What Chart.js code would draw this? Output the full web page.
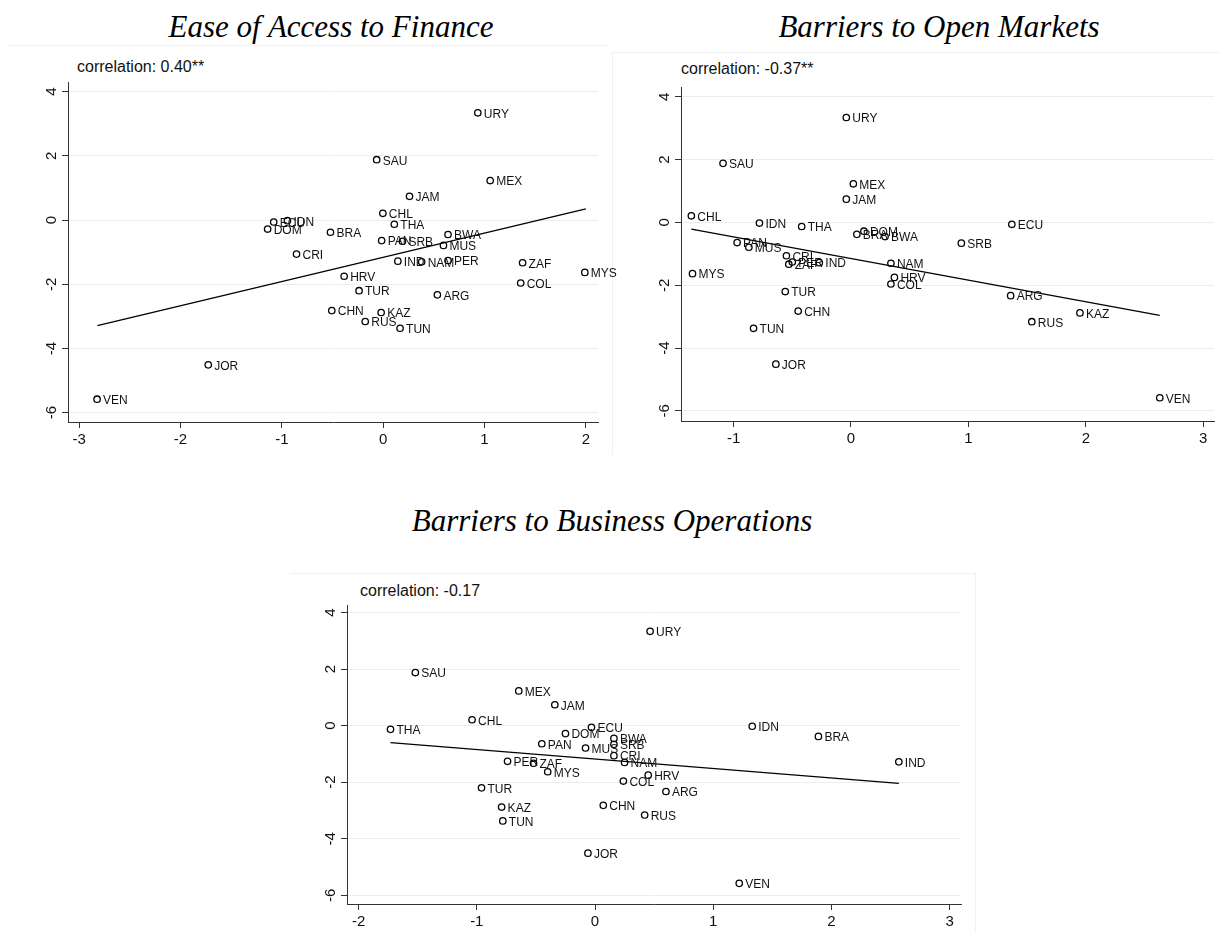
<!DOCTYPE html>
<html><head><meta charset="utf-8">
<script src="https://cdn.jsdelivr.net/npm/chart.js@4.4.0/dist/chart.umd.min.js"></script>
<style>
body{margin:0;background:#fff;width:1223px;height:935px;position:relative;overflow:hidden;font-family:"Liberation Sans",Arial,sans-serif}
.t{position:absolute;font-family:"Liberation Serif","Times New Roman",serif;font-style:italic;font-size:31px;line-height:31px;white-space:nowrap;transform:translateX(-50%);color:#000}
.c{position:absolute;font-size:16px;line-height:16px;color:#111;white-space:nowrap}
canvas{position:absolute}
.f{position:absolute;background:#edf2f3}
</style></head><body>
<div class="f" style="left:8px;top:45px;width:601px;height:1px"></div>
<div class="f" style="left:612px;top:52px;width:608px;height:1px"></div>
<div class="f" style="left:612px;top:52px;width:1px;height:403px"></div>
<div class="f" style="left:290px;top:573px;width:685px;height:1px"></div>
<div class="f" style="left:975px;top:573px;width:1px;height:360px"></div>

<div class="t" style="left:331px;top:11px">Ease of Access to Finance</div>
<div class="t" style="left:939px;top:11px">Barriers to Open Markets</div>
<div class="t" style="left:612px;top:505px">Barriers to Business Operations</div>
<div class="c" style="left:77px;top:59px">correlation: 0.40**</div>
<div class="c" style="left:681px;top:61px">correlation: -0.37**</div>
<div class="c" style="left:360px;top:583px">correlation: -0.17</div>

<canvas id="p1"></canvas>
<canvas id="p2"></canvas>
<canvas id="p3"></canvas>
<script>
// ---- data ----
const countries = ['URY','SAU','MEX','JAM','CHL','THA','ECU','IDN','DOM','BRA','BWA','PAN','SRB','MUS','CRI','IND','NAM','PER','ZAF','MYS','HRV','COL','TUR','ARG','CHN','KAZ','RUS','TUN','JOR','VEN'];
const growth = [3.34,1.88,1.23,0.74,0.21,-0.13,-0.06,-0.02,-0.28,-0.38,-0.45,-0.64,-0.66,-0.79,-1.06,-1.28,-1.30,-1.26,-1.33,-1.63,-1.75,-1.96,-2.20,-2.33,-2.82,-2.88,-3.16,-3.37,-4.51,-5.58];
const financeX = [0.934,-0.064,1.056,0.26,-0.003,0.11,-1.08,-0.945,-1.14,-0.52,0.64,-0.015,0.19,0.595,-0.855,0.145,0.38,0.64,1.376,1.99,-0.385,1.357,-0.238,0.535,-0.507,-0.02,-0.177,0.167,-1.726,-2.823];
const openX = [-0.04,-1.09,0.02,-0.04,-1.36,-0.42,1.37,-0.78,0.11,0.05,0.29,-0.97,0.94,-0.87,-0.55,-0.27,0.34,-0.50,-0.53,-1.35,0.37,0.34,-0.56,1.36,-0.45,1.95,1.54,-0.83,-0.64,2.63];
const businessX = [0.466,-1.52,-0.645,-0.34,-1.04,-1.73,-0.03,1.33,-0.25,1.89,0.16,-0.45,0.16,-0.08,0.16,2.57,0.25,-0.74,-0.52,-0.40,0.45,0.24,-0.96,0.60,0.07,-0.79,0.42,-0.78,-0.06,1.22];
const financeFitX = [-2.82,2.0],  financeFitY = [-3.29,0.35];
const openFitX = [-1.36,2.63],    openFitY = [-0.21,-2.96];
const businessFitX = [-1.73,2.57], businessFitY = [-0.60,-2.04];
const yTicks = [-6,-4,-2,0,2,4];
const financeTicks = [-3,-2,-1,0,1,2];
const openTicks = [-1,0,1,2,3];
const businessTicks = [-2,-1,0,1,2,3];

const FONT = '"Liberation Sans", Arial, sans-serif';
const fmt = v => String(v);

const labelPlugin = {
  id:'labels',
  afterDatasetsDraw(chart){
    const ctx = chart.ctx;
    const meta = chart.getDatasetMeta(0);
    ctx.save();
    ctx.font = '12px ' + FONT;
    ctx.fillStyle = '#111';
    ctx.textAlign = 'left';
    ctx.textBaseline = 'middle';
    meta.data.forEach((pt,i)=>{ ctx.fillText(countries[i], pt.x + 6, pt.y + 1.5); });
    ctx.restore();
  },
  afterDraw(chart){
    const ctx = chart.ctx, ys = chart.scales.y;
    ctx.save();
    ctx.font = '15px ' + FONT;
    ctx.fillStyle = '#111';
    ctx.textAlign = 'center';
    ctx.textBaseline = 'middle';
    ys.ticks.forEach(t=>{
      const py = ys.getPixelForValue(t.value);
      ctx.save();
      ctx.translate(chart.chartArea.left - 16, py);
      ctx.rotate(-Math.PI/2);
      ctx.fillText(fmt(t.value), 0, 0);
      ctx.restore();
    });
    ctx.restore();
  }
};

function panel(id, g, xs, fitX, fitY, xTicks){
  const cv = document.getElementById(id);
  const yW = 50, pT = 10, pR = 25, xH = 35;
  const left = g.L - yW, top = g.T - pT;
  const w = g.R - left + pR, h = g.B - top + xH;
  cv.width = w; cv.height = h;
  cv.style.left = left + 'px'; cv.style.top = top + 'px';
  cv.style.width = w + 'px'; cv.style.height = h + 'px';
  new Chart(cv, {
    type:'scatter',
    data:{datasets:[
      {data: xs.map((x,i)=>({x:x, y:growth[i]})), pointRadius:3.2, pointBorderWidth:1.3,
       pointBorderColor:'#000', pointBackgroundColor:'rgba(0,0,0,0)', pointStyle:'circle'},
      {data: fitX.map((x,i)=>({x:x, y:fitY[i]})), showLine:true, borderColor:'#000', borderWidth:1.3,
       pointRadius:0, fill:false}
    ]},
    options:{
      responsive:false, animation:false, devicePixelRatio:1,
      layout:{padding:{left:0, top:pT, right:pR, bottom:0}},
      plugins:{legend:{display:false}, tooltip:{enabled:false}, title:{display:false}},
      scales:{
        x:{type:'linear', min:g.xmin, max:g.xmax,
           afterBuildTicks:s=>{ s.ticks = xTicks.map(v=>({value:v})); },
           afterFit:s=>{ s.height = xH; },
           grid:{display:true, drawOnChartArea:false, drawTicks:true, tickLength:6, tickColor:'#333', lineWidth:1},
           border:{display:true, color:'#333', width:1},
           ticks:{font:{family:FONT, size:15}, color:'#111', padding:3, maxRotation:0, minRotation:0, autoSkip:false, callback:v=>fmt(v)}},
        y:{type:'linear', min:g.ymin, max:g.ymax,
           afterBuildTicks:s=>{ s.ticks = yTicks.map(v=>({value:v})); },
           afterFit:s=>{ s.width = yW; },
           grid:{display:true, color:'#e8eff1', lineWidth:1, drawTicks:true, tickLength:6, tickColor:'#333'},
           border:{display:true, color:'#333', width:1},
           ticks:{display:false}}
      }
    },
    plugins:[labelPlugin]
  });
}

panel('p1', {L:68, R:598, T:82, B:422, xmin:-3.11, xmax:2.12, ymin:-6.29, ymax:4.30}, financeX, financeFitX, financeFitY, financeTicks);
panel('p2', {L:681, R:1214, T:87, B:421, xmin:-1.448, xmax:3.092, ymin:-6.32, ymax:4.31}, openX, openFitX, openFitY, openTicks);
panel('p3', {L:347, R:961, T:605, B:904, xmin:-2.098, xmax:3.096, ymin:-6.31, ymax:4.27}, businessX, businessFitX, businessFitY, businessTicks);
</script>
</body></html>
